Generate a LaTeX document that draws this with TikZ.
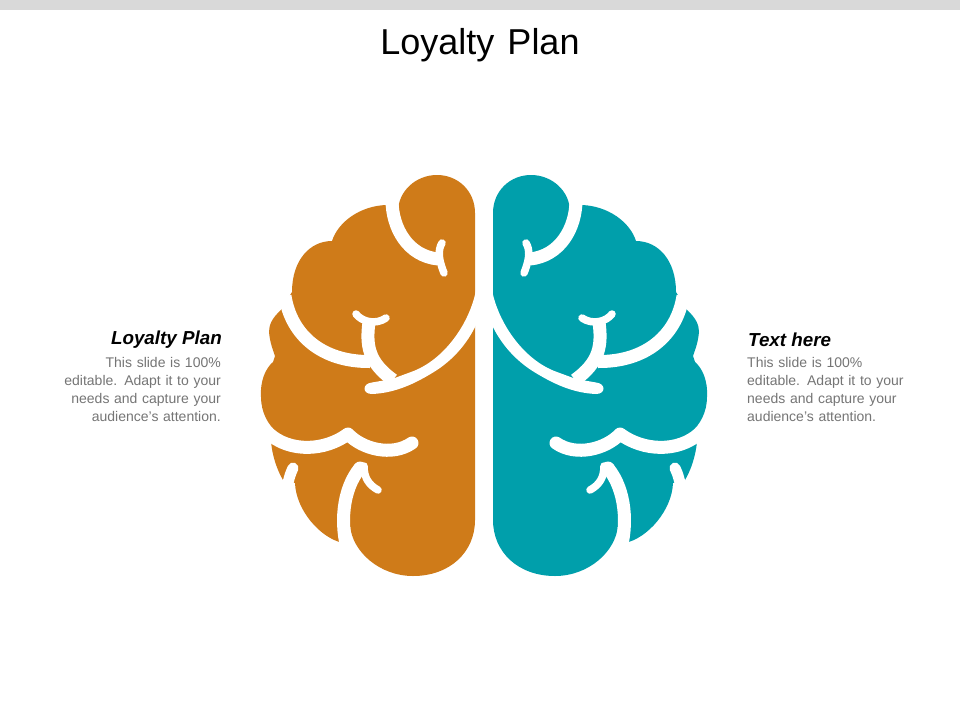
\documentclass[tikz,border=0pt]{standalone}
\usepackage{fontspec}
\setmainfont{Liberation Sans}
\definecolor{brainorange}{HTML}{CF7B19}
\definecolor{brainteal}{HTML}{009FAB}
\definecolor{bodygrey}{HTML}{757575}
\definecolor{topbar}{HTML}{D9D9D9}
\tikzset{
  groove/.style={draw=white,line width=13pt,line cap=round,line join=round},
  groovethin/.style={draw=white,line width=7.5pt,line cap=round,line join=round},
  titletext/.style={font=\fontsize{36}{40}\selectfont,text=black,inner sep=0pt},
  headtext/.style={font=\fontsize{18.8}{20}\selectfont\bfseries\itshape,text=black,inner sep=0pt},
  bodytext/.style={font=\fontsize{14}{17.8}\selectfont,text=bodygrey,inner sep=0pt,text width=170pt}
}
\newcommand{\brainhalf}[1]{%
  \fill[#1] (475,213) .. controls (475,191) and (458,175) .. (437,175)
    .. controls (416,175) and (398,191) .. (398,212) -- (386,205)
    .. controls (360,206) and (338,222) .. (332,241)
    .. controls (310,241) and (292,260) .. (292,292) -- (281,310)
    .. controls (272,318) and (269,325) .. (269,332)
    .. controls (270,343) and (273,350) .. (275,356) -- (273,362)
    .. controls (266,368) and (260,380) .. (261,397)
    .. controls (261,412) and (268,425) .. (277,432) -- (271,441)
    .. controls (272,455) and (277,470) .. (283,480) -- (295,483)
    .. controls (296,510) and (320,538) .. (343,543) -- (350,525)
    .. controls (352,552) and (380,576) .. (413,576)
    .. controls (450,576) and (475,552) .. (475,520) -- cycle;
  % groove round the top lobe
  \draw[groove,line cap=butt] (392,200) .. controls (392,228) and (408,256) .. (438,259);
  \draw[groovethin] (442,243) .. controls (438,250) and (438,258) .. (444,273);
  % long groove under the upper lobes
  \draw[groove,line cap=butt] (285,296) .. controls (291,335) and (322,362) .. (370,361.5);
  \fill[white] (476,290) .. controls (470,322) and (445,360) .. (411,372)
    -- (392,379) -- (372,382.5) .. controls (362,383.5) and (362,394) .. (372,394)
    .. controls (395,393) and (415,384) .. (437,370)
    .. controls (455,358) and (468,342) .. (476,325) -- cycle;
  % forked branch
  \draw[groove,line cap=butt] (369,322) .. controls (366,345) and (368,362) .. (393,380);
  \draw[groovethin] (356,314) .. controls (362,322) and (376,325) .. (386,318);
  % groove across the lower part
  \draw[groove,line cap=butt] (268,433) .. controls (290,453) and (325,451) .. (348,434);
  \draw[groove] (348,434) .. controls (362,449) and (392,457) .. (412,443);
  % small notch
  \draw[groove,line width=11pt] (293,468) .. controls (290,474) and (288,482) .. (286,492);
  % big groove round the bottom lobe
  \draw[groove,line cap=butt] (348,552) .. controls (340,525) and (342,490) .. (360,468);
  \fill[white] (360,468) circle (6.5pt);
  \draw[groovethin] (364,466) .. controls (364,478) and (369,485) .. (378,490);
}
\begin{document}
\begin{tikzpicture}[x=1pt,y=-1pt]
  \useasboundingbox (0,0) rectangle (960,720);
  \fill[white] (0,0) rectangle (960,720);
  \fill[topbar] (0,0) rectangle (960,10);
  \node[titletext,anchor=center] (title) at (480,45) {Loyalty\hspace{3pt} Plan};
  \brainhalf{brainorange}
  \begin{scope}[xshift=968pt,xscale=-1]
    \brainhalf{brainteal}
  \end{scope}
  \node[headtext,anchor=east] (lefthead) at (222,340) {Loyalty Plan};
  \node[bodytext,align=right,anchor=north east] (leftbody) at (221,357.5) {This slide is 100\%\\editable. Adapt it to your\\needs and capture your\\audience\symbol{39}s attention.};
  \node[headtext,anchor=west] (righthead) at (748,340) {Text here};
  \node[bodytext,align=left,anchor=north west] (rightbody) at (747,357.5) {This slide is 100\%\\editable. Adapt it to your\\needs and capture your\\audience\symbol{39}s attention.};
\end{tikzpicture}
\end{document}
